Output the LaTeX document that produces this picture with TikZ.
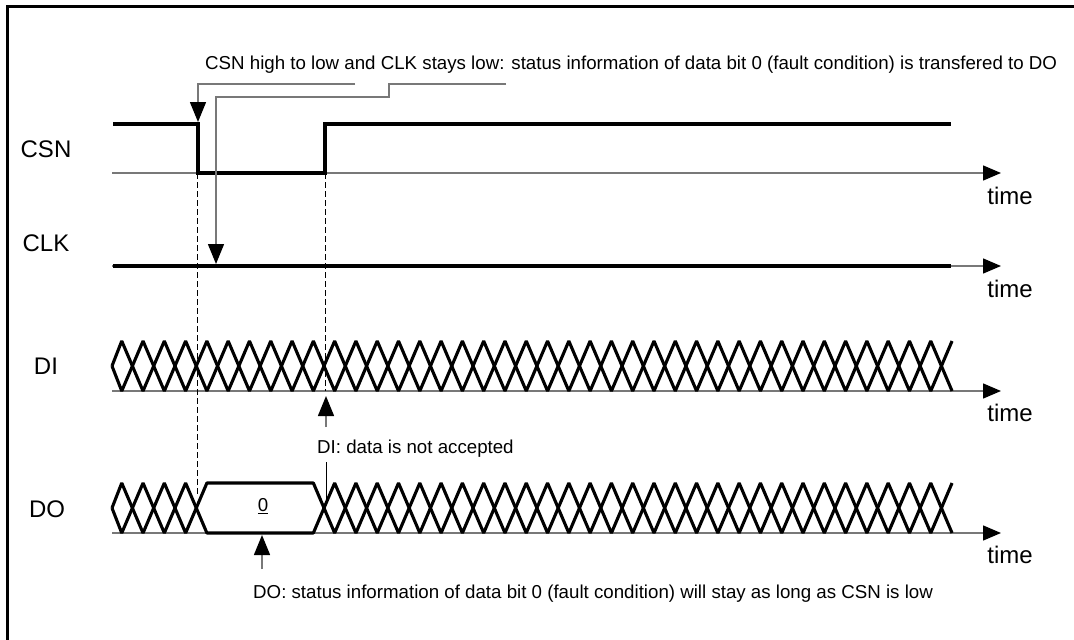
\documentclass[tikz,border=0pt]{standalone}
\usepackage{fontspec}
\setmainfont{Liberation Sans}
\usetikzlibrary{arrows.meta}
\definecolor{axisgray}{RGB}{120,120,120}
\begin{document}
\begin{tikzpicture}[x=1pt,y=-1pt,
  sig/.style={line width=3.4pt},
  bus/.style={line width=3.1pt,line join=bevel},
  axisline/.style={line width=1.4pt,draw=axisgray,-{Triangle[length=18pt,width=15pt,color=black]}},
  leader/.style={line width=1.4pt,draw=axisgray,-{Triangle[length=20pt,width=16pt,color=black]}},
  guide/.style={line width=1pt,dash pattern=on 6pt off 3pt},
  lbl/.style={inner sep=0pt,font=\fontsize{24}{28}\selectfont},
  ann/.style={inner sep=0pt,font=\fontsize{18.7}{22}\selectfont},
]
\useasboundingbox (0,0) rectangle (1074,640);
\fill[white] (0,0) rectangle (1074,640);
% frame (left and top edges only)
\draw[line width=2.6pt] (7.5,640) -- (7.5,6.5) -- (1074,6.5);

% signal labels
\node[lbl] (lcsn) at (46,149) {CSN};
\node[lbl] (lclk) at (46,243) {CLK};
\node[lbl] (ldi) at (46,366) {DI};
\node[lbl] (ldo) at (47,509) {DO};

% time labels
\node[lbl] (t1) at (1010,196) {time};
\node[lbl] (t2) at (1010,289) {time};
\node[lbl] (t3) at (1010,413) {time};
\node[lbl] (t4) at (1010,555) {time};

% axes
\coordinate (a1s) at (112,173); \coordinate (a1e) at (1001,173);
\coordinate (a2s) at (112,266); \coordinate (a2e) at (1001,266);
\coordinate (a3s) at (112,391); \coordinate (a3e) at (1001,391);
\coordinate (a4s) at (112,533); \coordinate (a4e) at (1001,533);
\draw[axisline] (a1s) -- (a1e);
\draw[axisline] (a2s) -- (a2e);
\draw[axisline] (a3s) -- (a3e);
\draw[axisline] (a4s) -- (a4e);

% dashed guides
\draw[guide] (197.5,173) -- (197.5,496);
\draw[guide] (325.5,173) -- (325.5,391);

% CSN
\draw[sig] (113,124) -- (198,124) -- (198,173) -- (325,173) -- (325,124) -- (951,124);
% CLK
\draw[sig] (113,266) -- (951,266);

% DI bus
\draw[bus] (112,366) foreach \k in {0,...,39} { -- ({121.75+21.29*\k},{366-25*cos(180*\k)}) };
\draw[bus] (112,366) foreach \k in {0,...,39} { -- ({121.75+21.29*\k},{366+25*cos(180*\k)}) };

% DO bus
\draw[bus] (112,508) foreach \k in {0,...,4} { -- ({121.75+21.29*\k},{508-25*cos(180*\k)}) }
   foreach \k in {9,...,39} { -- ({121.75+21.29*\k},{508+25*cos(180*\k)}) };
\draw[bus] (112,508) foreach \k in {0,...,4} { -- ({121.75+21.29*\k},{508+25*cos(180*\k)}) }
   foreach \k in {9,...,39} { -- ({121.75+21.29*\k},{508-25*cos(180*\k)}) };
\node[ann] (zero) at (263,506) {\underline{0}};

% annotations
\node[ann,anchor=base west] (top) at (205,69) {CSN high to low and CLK stays low: status information of data bit 0 (fault condition) is transfered to DO};
\node[ann,anchor=base west] (dinote) at (317,453) {DI: data is not accepted};
\node[ann,anchor=base west] (donote) at (253,598) {DO: status information of data bit 0 (fault condition) will stay as long as CSN is low};

% leaders
\coordinate (l1s) at (355,84); \coordinate (l1e) at (198,122);
\draw[leader] (l1s) -- (198,84) -- (l1e);
\coordinate (l2s) at (506,84); \coordinate (l2e) at (216,264);
\draw[leader] (l2s) -- (389,84) -- (389,97) -- (216,97) -- (l2e);
\coordinate (l3s) at (326,427); \coordinate (l3e) at (326,396);
\draw[leader] (l3s) -- (l3e);
\coordinate (l4s) at (326,462); \coordinate (l4e) at (326,505);
\draw[line width=1pt] (l4s) -- (l4e);
\coordinate (l5s) at (262,569); \coordinate (l5e) at (262,535);
\draw[leader] (l5s) -- (l5e);
\end{tikzpicture}
\end{document}
